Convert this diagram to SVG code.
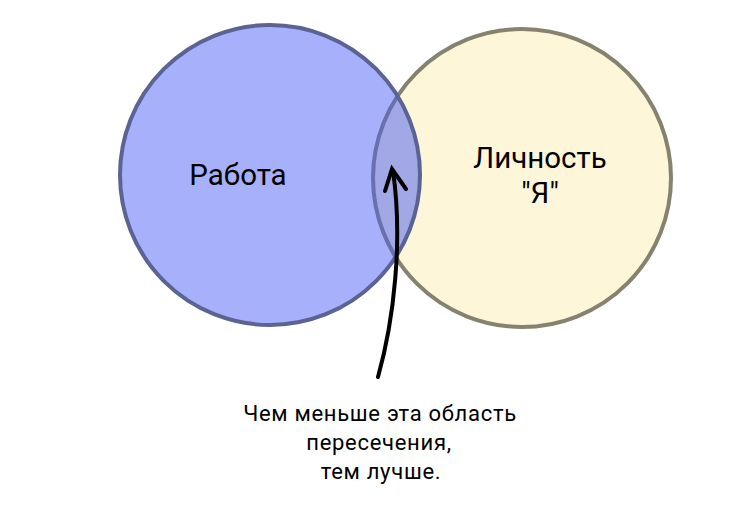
<svg xmlns="http://www.w3.org/2000/svg" width="748" height="507" viewBox="0 0 748 507">
<style>
text{font-family:Roboto,"Liberation Sans",sans-serif;fill:#000;text-anchor:middle}
.big{font-size:29.5px}
.small{font-size:22px;letter-spacing:0.7px}
</style>
<defs>
<clipPath id="leftClip"><circle cx="270" cy="175" r="150"/></clipPath>
</defs>
<rect width="748" height="507" fill="#fff"/>
<g id="lichnost">
<circle cx="522" cy="178" r="149" fill="#fdf6d9" stroke="#85826f" stroke-width="4"/>
<text class="big" x="540" y="168">Личность</text>
<text class="big" x="540" y="203">"Я"</text>
</g>
<g id="rabota">
<circle cx="270" cy="175" r="150" fill="#a7b1fb"/>
<circle cx="522" cy="178" r="149" fill="#a2a7e5" stroke="#6a70ae" stroke-width="4" clip-path="url(#leftClip)"/>
<circle cx="270" cy="175" r="150" fill="none" stroke="#5b6392" stroke-width="4"/>
<text class="big" x="238" y="185">Работа</text>
</g>
<g id="connectors">
<path d="M378,377 C394,320 403,240 393,171" fill="none" stroke="#000" stroke-width="4" stroke-linecap="round"/>
<path d="M385,191 L392,169 L406,189" fill="none" stroke="#000" stroke-width="4" stroke-linejoin="miter" stroke-linecap="round"/>
</g>
<g id="note">
<text class="small" x="380" y="421">Чем меньше эта область</text>
<text class="small" x="379" y="450">пересечения,</text>
<text class="small" x="381" y="479">тем лучше.</text>
</g>
</svg>
